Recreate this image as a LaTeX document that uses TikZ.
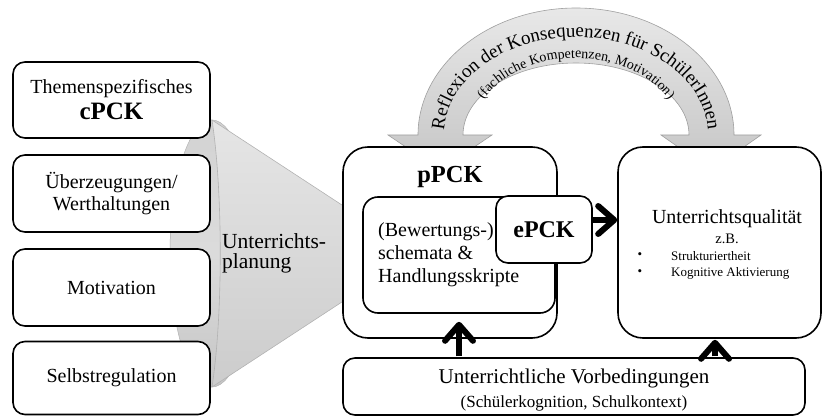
\documentclass[tikz,border=0pt]{standalone}
\usepackage{fontspec}
\setmainfont{Liberation Serif}
\usetikzlibrary{arrows.meta,decorations.text,shadings}
\newcommand\fsz[2]{\fontsize{#1}{#2}\selectfont}
\begin{document}
\begin{tikzpicture}[x=1pt,y=1pt,
  box/.style={draw, line width=1.6pt, fill=white, align=center, inner sep=0pt},
  lbox/.style={box, rounded corners=12pt, minimum width=197pt},
  bigbox/.style={box, rounded corners=25pt},
  arr/.style={line width=6pt, -{Straight Barb[length=16pt,width=28pt,round]}},
  txt/.style={inner sep=0pt},
  bandfill/.style={top color=gray!18, bottom color=gray!45, draw=gray!75, line width=0.6pt}]
\useasboundingbox (0,0) rectangle (823,416);

% ---- arch arrow ----
\path[bandfill] (440,246) -- (388,281) -- (418,281)
  arc[start angle=180, end angle=0, x radius=158, y radius=127]
  -- (761,281) -- (711,246) -- (661,281) -- (689,281)
  arc[start angle=0, end angle=180, x radius=113, y radius=72]
  -- (492,281) -- cycle;
\path[decorate, decoration={text along path, text align=center,
  text={|\fsz{19}{19}|Reflexion der Konsequenzen für SchülerInnen}}]
  (444,281) arc[start angle=180, end angle=0, x radius=132, y radius=98];
\path[decorate, decoration={text along path, text align=center,
  text={|\fsz{14}{14}|(fachliche Kompetenzen, Motivation)}}]
  (472,281) arc[start angle=180, end angle=0, x radius=104, y radius=77];

% ---- funnel ----
\shade[top color=gray!35, bottom color=gray!45, middle color=gray!28, draw=gray!60, line width=0.5pt]
  (212,162.5) ellipse[x radius=42, y radius=133.5];
\shade[top color=gray!20, middle color=gray!8, bottom color=gray!40, draw=gray!60, line width=0.6pt]
  (212,296) -- (345,209) -- (345,116) -- (212,29)
  .. controls (223,100) and (223,225) .. (212,296) -- cycle;

% ---- left boxes ----
\node[lbox, minimum height=76pt, font=\fsz{20}{26}] (b1) at (111.5,316)
  {Themenspezifisches\\ \fsz{25}{26}\bfseries cPCK};
\node[lbox, minimum height=77pt, font=\fsz{20}{22}] (b2) at (111.5,222.5)
  {Überzeugungen/\\Werthaltungen};
\node[lbox, minimum height=77pt, font=\fsz{20}{22}] (b3) at (111.5,128.5)
  {Motivation};
\node[lbox, minimum height=73pt, font=\fsz{20}{22}] (b4) at (111.5,38)
  {Selbstregulation};

\node[txt, anchor=west, align=left, font=\fsz{21.5}{20}] (plan) at (222,163)
  {Unterrichts-\\planung};

% ---- pPCK ----
\node[bigbox, minimum width=214pt, minimum height=191pt] (ppck) at (450,173.5) {};
\node[txt, font=\fsz{24.5}{25}\bfseries] (ppckt) at (450,239) {pPCK};
\node[box, rounded corners=15pt, minimum width=192pt, minimum height=116pt] (inner) at (459,161) {};
\node[txt, anchor=west, align=left, font=\fsz{20}{23}] (innert) at (378,161)
  {(Bewertungs-)\\schemata \&\\Handlungsskripte};
\node[box, rounded corners=12pt, minimum width=96pt, minimum height=67pt, font=\fsz{24}{25}\bfseries] (epck) at (544,186.5)
  {ePCK};

% ---- right box ----
\node[bigbox, minimum width=203pt, minimum height=191pt] (rbox) at (719.5,173.5) {};
\node[txt, font=\fsz{20}{22}] (uq) at (727,197) {Unterrichtsqualität};
\node[txt, font=\fsz{14.5}{15}] (zb) at (727,177) {z.B.};
\node[txt, font=\fsz{13}{14}] (bu1) at (640,160) {•};
\node[txt, font=\fsz{13}{14}] (bu2) at (640,143) {•};
\node[txt, anchor=west, font=\fsz{13}{14}] (s1) at (671,160) {Strukturiertheit};
\node[txt, anchor=west, font=\fsz{13}{14}] (s2) at (671,143) {Kognitive Aktivierung};

% ---- bottom box ----
\node[box, rounded corners=12pt, minimum width=462pt, minimum height=57pt] (bot) at (574,29.5) {};
\node[txt, font=\fsz{21}{22}] (bott) at (574,38) {Unterrichtliche Vorbedingungen};
\node[txt, font=\fsz{17}{18}] (bots) at (574,13) {(Schülerkognition, Schulkontext)};

% ---- arrows ----
\draw[arr] ([yshift=9.5pt]epck.east) -- ([yshift=9.5pt]epck.east -| rbox.west);
\draw[arr] ([yshift=0.8pt]inner.south |- bot.north) -- ([yshift=-8pt]inner.south);
\draw[arr] ([xshift=-4.5pt,yshift=0.8pt]rbox.south |- bot.north) -- ([xshift=-4.5pt,yshift=-1pt]rbox.south);
\end{tikzpicture}
\end{document}
